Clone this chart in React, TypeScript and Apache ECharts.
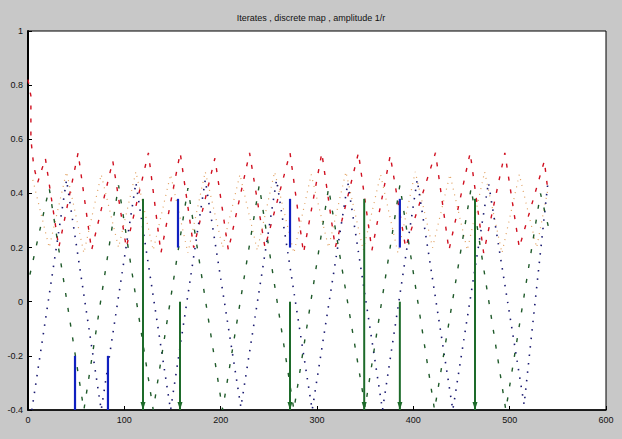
import React, { useEffect, useRef } from "react";
import * as echarts from "echarts";

const titleText = "Iterates , discrete map , amplitude 1/r";
const xTicks = [0, 100, 200, 300, 400, 500, 600];
const yTicks = [-0.4, -0.2, 0, 0.2, 0.4, 0.6, 0.8, 1];

// red dashed series (x, y)
const redX = [0, 3, 3, 6, 10, 18, 32, 52, 66, 88, 102, 125, 138, 158, 172, 194, 208, 230, 246, 272, 286, 305, 319, 343, 357, 376, 392, 423, 437, 459, 473, 495, 510, 536, 540];
const redY = [0.82, 0.76, 0.6, 0.5, 0.44, 0.53, 0.2, 0.55, 0.19, 0.52, 0.2, 0.55, 0.18, 0.55, 0.2, 0.53, 0.19, 0.55, 0.2, 0.55, 0.18, 0.55, 0.2, 0.55, 0.19, 0.54, 0.2, 0.55, 0.19, 0.55, 0.18, 0.55, 0.2, 0.52, 0.4];

// orange dotted series
const orangeX = [5, 22, 40, 58, 76, 94, 112, 130, 148, 166, 184, 202, 220, 238, 256, 276, 294, 312, 330, 348, 366, 384, 402, 420, 438, 456, 474, 492, 510, 528, 540];
const orangeY = [0.45, 0.2, 0.48, 0.18, 0.47, 0.2, 0.48, 0.19, 0.47, 0.18, 0.48, 0.2, 0.47, 0.19, 0.48, 0.18, 0.47, 0.2, 0.48, 0.19, 0.47, 0.18, 0.48, 0.2, 0.47, 0.19, 0.48, 0.18, 0.47, 0.2, 0.42];

// blue dotted series
const blueX = [4, 40, 76, 112, 148, 184, 221, 258, 295, 332, 368, 404, 441, 478, 515, 540];
const blueY = [-0.4, 0.45, -0.4, 0.44, -0.4, 0.45, -0.39, 0.45, -0.4, 0.44, -0.4, 0.45, -0.4, 0.44, -0.38, 0.45];

// green dashed series
const greenX = [2, 22, 58, 94, 130, 166, 202, 240, 276, 312, 350, 386, 422, 460, 496, 532, 540];
const greenY = [0.1, 0.42, -0.4, 0.43, -0.4, 0.42, -0.4, 0.43, -0.4, 0.42, -0.39, 0.43, -0.4, 0.42, -0.4, 0.4, 0.28];

// blue stems
const blueStemX = [48.8, 83, 155.7, 272, 386];
const blueStemTop = [-0.2, -0.2, 0.38, 0.38, 0.38];
const blueStemBottom = [-0.4, -0.4, 0.2, 0.2, 0.2];

// green stems with arrow heads
const greenStemX = [119.4, 157.8, 272, 349, 386, 464];
const greenStemTop = [0.38, 0, 0, 0.38, 0, 0.38];
const greenStemBottom = [-0.4, -0.4, -0.4, -0.4, -0.4, -0.4];

const zip = (xs: number[], ys: number[]) => xs.map((x, i) => [x, ys[i]]);

export default function App() {
  const ref = useRef<HTMLDivElement>(null);
  useEffect(() => {
    if (!ref.current) return;
    const chart = echarts.init(ref.current, undefined, { renderer: "svg" });
    const font = "Liberation Sans, Arial, sans-serif";
    const series: any[] = [
      {
        type: "line",
        data: zip(orangeX, orangeY),
        symbol: "none",
        lineStyle: { color: "#e0a060", width: 1.2, type: [1, 5] },
        z: 2,
      },
      {
        type: "line",
        data: zip(redX, redY),
        symbol: "none",
        lineStyle: { color: "#d01020", width: 1.4, type: [4, 9] },
        z: 3,
      },
      {
        type: "line",
        data: zip(blueX, blueY),
        symbol: "none",
        lineStyle: { color: "#1a1a70", width: 1.6, type: [1.5, 7] },
        z: 3,
      },
      {
        type: "line",
        data: zip(greenX, greenY),
        symbol: "none",
        lineStyle: { color: "#1f5a2a", width: 1.4, type: [4, 11] },
        z: 3,
      },
    ];
    blueStemX.forEach((x, i) => {
      series.push({
        type: "line",
        data: [[x, blueStemTop[i]], [x, blueStemBottom[i]]],
        symbol: "none",
        lineStyle: { color: "#1020c0", width: 2.2 },
        z: 5,
      });
    });
    greenStemX.forEach((x, i) => {
      series.push({
        type: "line",
        data: [
          { value: [x, greenStemTop[i]], symbol: "none" },
          { value: [x, greenStemBottom[i]], symbol: "triangle", symbolSize: [5, 8], symbolRotate: 180, symbolOffset: [0, -4], itemStyle: { color: "#1d6b2a" } },
        ],
        showSymbol: true,
        lineStyle: { color: "#1d6b2a", width: 2 },
        z: 5,
      });
    });
    chart.setOption({
      animation: false,
      backgroundColor: "#c8c8c8",
      title: {
        text: titleText,
        left: "center",
        top: 8,
        textStyle: { fontFamily: font, fontSize: 9, fontWeight: "normal", color: "#111" },
      },
      grid: {
        left: 28,
        right: 16,
        top: 31,
        bottom: 29,
        show: true,
        backgroundColor: "#ffffff",
        borderColor: "#000",
        borderWidth: 1,
      },
      xAxis: {
        type: "value",
        min: 0,
        max: 600,
        interval: 100,
        axisLine: { show: true, onZero: false, lineStyle: { color: "#000", width: 1.5 } },
        axisTick: { show: true, inside: true, length: 4, lineStyle: { color: "#000" } },
        splitLine: { show: false },
        axisLabel: {
          fontFamily: font,
          fontSize: 9,
          color: "#111",
          margin: 5,
          formatter: (v: number) => (xTicks.includes(Math.round(v)) ? String(Math.round(v)) : ""),
        },
      },
      yAxis: {
        type: "value",
        min: -0.4,
        max: 1,
        interval: 0.2,
        axisLine: { show: true, onZero: false, lineStyle: { color: "#000", width: 2 } },
        axisTick: { show: true, inside: true, length: 4, lineStyle: { color: "#000" } },
        splitLine: { show: false },
        axisLabel: {
          fontFamily: font,
          fontSize: 9,
          color: "#111",
          margin: 5,
          formatter: (v: number) => {
            const r = Math.round(v * 10) / 10;
            const t = yTicks.find((k) => Math.abs(k - r) < 1e-6);
            return t === undefined ? "" : String(t);
          },
        },
      },
      series,
    });
    return () => chart.dispose();
  }, []);
  return (
    <div
      ref={ref}
      style={{ position: "fixed", left: 0, top: 0, width: 622, height: 439 }}
    />
  );
}
